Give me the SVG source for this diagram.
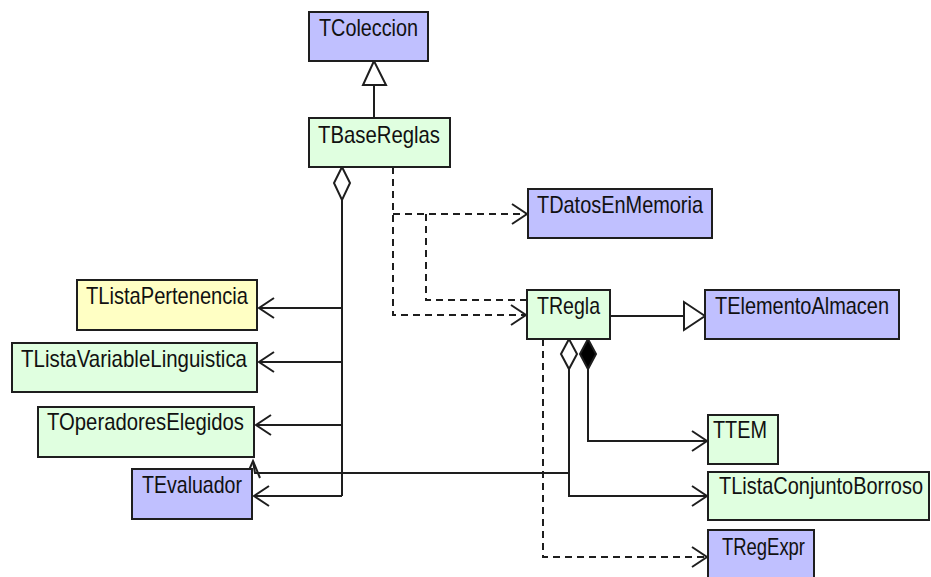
<svg xmlns="http://www.w3.org/2000/svg" width="931" height="577" viewBox="0 0 931 577">
  <style>
    .box { stroke: #1e1e1e; stroke-width: 2; }
    .blue { fill: #c0c0ff; }
    .green { fill: #e0ffe0; }
    .yellow { fill: #ffffc4; }
    .lbl { font-family: "Liberation Sans", Arial, sans-serif; font-size: 24px; fill: #111; }
    .ln { fill: none; stroke: #1e1e1e; stroke-width: 2; }
    .dash { fill: none; stroke: #1e1e1e; stroke-width: 2; stroke-dasharray: 7 5; }
    .hollow { fill: #fff; stroke: #1e1e1e; stroke-width: 2; }
    .solid { fill: #000; stroke: #1e1e1e; stroke-width: 2; }
  </style>
  <defs>
    <marker id="open" viewBox="-17 -12 19 24" refX="0" refY="0" markerWidth="19" markerHeight="24" markerUnits="userSpaceOnUse" orient="auto">
      <path d="M-15,-10 L0,0 L-15,10" fill="none" stroke="#1e1e1e" stroke-width="2"/>
    </marker>
  </defs>
  <rect width="931" height="577" fill="#fff"/>

  <g id="connectors">
    <!-- TBaseReglas generalizes TColeccion -->
    <line class="ln" x1="374" y1="118" x2="374" y2="85"/>
    <polygon class="hollow" points="374,61 363,85 386,85"/>

    <!-- TBaseReglas aggregation -->
    <polygon class="hollow" points="342,167 334,183 342,200 350,183"/>
    <path class="ln" d="M342,200 V496"/>
    <path class="ln" d="M342,308 H259" marker-end="url(#open)"/>
    <path class="ln" d="M342,362 H259" marker-end="url(#open)"/>
    <path class="ln" d="M342,425 H256" marker-end="url(#open)"/>
    <path class="ln" d="M342,496 H254" marker-end="url(#open)"/>

    <!-- dependencies from TBaseReglas and TRegla -->
    <path class="dash" d="M393,167 V315 H526" marker-end="url(#open)"/>
    <path class="dash" d="M393,214 H527" marker-end="url(#open)"/>
    <path class="dash" d="M527,300 H426 V214"/>

    <!-- TRegla generalizes TElementoAlmacen -->
    <line class="ln" x1="610" y1="316" x2="684" y2="316"/>
    <polygon class="hollow" points="705,316 684,302 684,330"/>

    <!-- TRegla composition -->
    <polygon class="solid" points="588,339 580,354 588,369 596,354"/>
    <path class="ln" d="M588,369 V441 H707" marker-end="url(#open)"/>

    <!-- TRegla aggregation -->
    <polygon class="hollow" points="569,339 561,354 569,369 577,354"/>
    <path class="ln" d="M569,369 V496 H707" marker-end="url(#open)"/>
    <path class="ln" d="M569,473 H255 L253,461"/>
    <path class="ln" d="M246,477 L253,461 L260,478"/>

    <!-- TRegla dependency -->
    <path class="dash" d="M543,339 V557 H707" marker-end="url(#open)"/>
  </g>

  <g id="TColeccion">
    <rect class="box blue" x="309" y="12" width="119" height="49"/>
    <text class="lbl" x="319" y="36" textLength="99" lengthAdjust="spacingAndGlyphs">TColeccion</text>
  </g>
  <g id="TBaseReglas">
    <rect class="box green" x="309" y="118" width="141" height="49"/>
    <text class="lbl" x="318" y="143" textLength="122" lengthAdjust="spacingAndGlyphs">TBaseReglas</text>
  </g>
  <g id="TListaPertenencia">
    <rect class="box yellow" x="77" y="280" width="180" height="50"/>
    <text class="lbl" x="86" y="304" textLength="162" lengthAdjust="spacingAndGlyphs">TListaPertenencia</text>
  </g>
  <g id="TListaVariableLinguistica">
    <rect class="box green" x="12" y="343" width="245" height="49"/>
    <text class="lbl" x="21" y="367" textLength="226" lengthAdjust="spacingAndGlyphs">TListaVariableLinguistica</text>
  </g>
  <g id="TOperadoresElegidos">
    <rect class="box green" x="38" y="407" width="216" height="50"/>
    <text class="lbl" x="47" y="430" textLength="197" lengthAdjust="spacingAndGlyphs">TOperadoresElegidos</text>
  </g>
  <g id="TEvaluador">
    <rect class="box blue" x="132" y="469" width="120" height="50"/>
    <text class="lbl" x="142" y="493" textLength="100" lengthAdjust="spacingAndGlyphs">TEvaluador</text>
  </g>
  <g id="TDatosEnMemoria">
    <rect class="box blue" x="528" y="189" width="184" height="49"/>
    <text class="lbl" x="537" y="213" textLength="166" lengthAdjust="spacingAndGlyphs">TDatosEnMemoria</text>
  </g>
  <g id="TRegla">
    <rect class="box green" x="527" y="290" width="83" height="49"/>
    <text class="lbl" x="537" y="314" textLength="63" lengthAdjust="spacingAndGlyphs">TRegla</text>
  </g>
  <g id="TElementoAlmacen">
    <rect class="box blue" x="705" y="290" width="194" height="49"/>
    <text class="lbl" x="715" y="314" textLength="174" lengthAdjust="spacingAndGlyphs">TElementoAlmacen</text>
  </g>
  <g id="TTEM">
    <rect class="box green" x="708" y="415" width="70" height="49"/>
    <text class="lbl" x="713" y="438" textLength="54" lengthAdjust="spacingAndGlyphs">TTEM</text>
  </g>
  <g id="TListaConjuntoBorroso">
    <rect class="box green" x="708" y="472" width="221" height="48"/>
    <text class="lbl" x="719" y="494" textLength="204" lengthAdjust="spacingAndGlyphs">TListaConjuntoBorroso</text>
  </g>
  <g id="TRegExpr">
    <rect class="box blue" x="708" y="530" width="106" height="52"/>
    <text class="lbl" x="722" y="555" textLength="83" lengthAdjust="spacingAndGlyphs">TRegExpr</text>
  </g>
</svg>
